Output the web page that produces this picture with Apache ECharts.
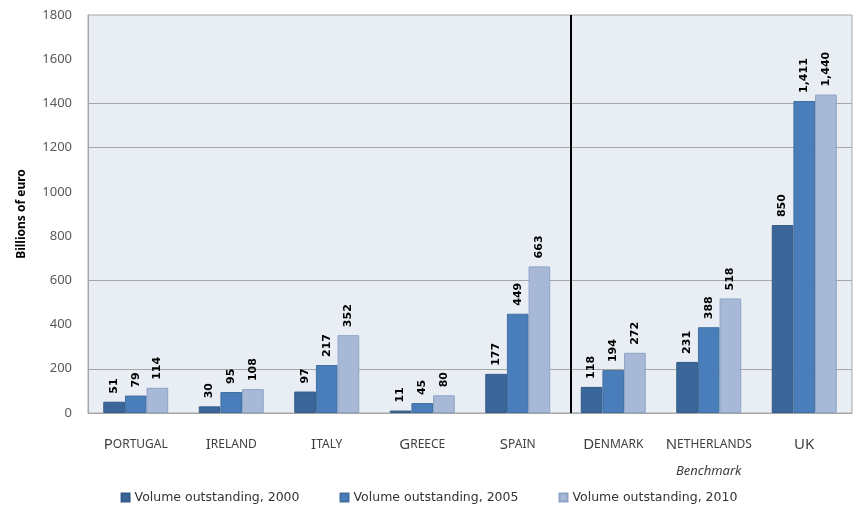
<!DOCTYPE html>
<html>
<head>
<meta charset="utf-8">
<script src="https://cdn.jsdelivr.net/npm/echarts@6/dist/echarts.min.js"></script>
<style>html,body{margin:0;padding:0;background:#fff;}#c{width:858px;height:513px;}</style>
</head>
<body>
<div id="c"></div>
<script>
const categories = ['Portugal', 'Ireland', 'Italy', 'Greece', 'Spain', 'Denmark', 'Netherlands', 'UK'];
const seriesNames = ['Volume outstanding, 2000', 'Volume outstanding, 2005', 'Volume outstanding, 2010'];
const vol2000 = [51, 30, 97, 11, 177, 118, 231, 850];
const vol2005 = [79, 95, 217, 45, 449, 194, 388, 1411];
const vol2010 = [114, 108, 352, 80, 663, 272, 518, 1440];
const visibleGridLines = [200, 600, 1200, 1400];
const benchmarkCategory = 'Netherlands';
const benchmarkNote = 'Benchmark';
const separatorAfter = 'Spain';     // separator drawn after this category
const separatorFrac = 0.558;        // fraction of the way to the next category centre

const colors = ['#3b6699', '#4a7ebb', '#a8b9d8'];
const borders = ['#335a88', '#41709f', '#8ea3c6'];
const gridColor = '#a6a6a6';
const plotBg = '#e9edf4';

function smallCaps(name) {
  let s;
  if (name === name.toUpperCase()) s = '{b|' + name + '}';
  else s = '{b|' + name[0].toUpperCase() + '}{s|' + name.slice(1).toUpperCase() + '}';
  if (name === benchmarkCategory) s += '\n{i|' + benchmarkNote + '}';
  return s;
}

const chart = echarts.init(document.getElementById('c'));
const dataArr = [vol2000, vol2005, vol2010];
const series = dataArr.map((d, i) => ({
  name: seriesNames[i],
  type: 'bar',
  data: d,
  barGap: '0%',
  barCategoryGap: '32%',
  z: 3,
  itemStyle: { color: colors[i], borderColor: borders[i], borderWidth: 1 },
  label: {
    show: true,
    position: 'top',
    rotate: 90,
    align: 'left',
    verticalAlign: 'middle',
    distance: 8,
    color: '#000',
    fontFamily: 'DejaVu Sans',
    fontWeight: 'bold',
    fontSize: 11,
    formatter: p => p.value.toLocaleString('en-US')
  }
}));
series[0].markLine = {
  silent: true,
  symbol: 'none',
  z: 1,
  animation: false,
  label: { show: false },
  lineStyle: { color: gridColor, width: 1, type: 'solid' },
  data: visibleGridLines.map(v => ({ yAxis: v }))
};

chart.setOption({
  animation: false,
  textStyle: { fontFamily: 'Noto Sans' },
  grid: { left: 88, right: 6, top: 15, bottom: 100, show: false },
  legend: {
    data: seriesNames,
    bottom: 4,
    left: 'center',
    icon: 'rect',
    itemWidth: 8,
    itemHeight: 8,
    itemGap: 40,
    textStyle: { color: '#333', fontSize: 12.5, fontFamily: 'DejaVu Sans' }
  },
  xAxis: {
    type: 'category',
    data: categories,
    axisLine: { show: true, lineStyle: { color: gridColor } },
    axisTick: { show: false },
    splitLine: { show: false },
    axisLabel: {
      interval: 0,
      margin: 18,
      formatter: smallCaps,
      rich: {
        b: { fontSize: 15, color: '#404040', fontFamily: 'Noto Sans', lineHeight: 27 },
        s: { fontSize: 12, color: '#404040', fontFamily: 'Noto Sans', lineHeight: 27 },
        i: { fontSize: 13, color: '#404040', fontFamily: 'Noto Sans', fontStyle: 'italic', lineHeight: 27 }
      }
    }
  },
  yAxis: {
    type: 'value',
    min: 0,
    max: 1800,
    interval: 200,
    name: 'Billions of euro',
    nameLocation: 'middle',
    nameGap: 60,
    nameTextStyle: { fontSize: 12, fontWeight: 'bold', color: '#000', fontFamily: 'Noto Sans' },
    axisLine: { show: true, lineStyle: { color: gridColor } },
    axisTick: { show: false },
    axisLabel: { margin: 16, color: '#595959', fontSize: 13, fontFamily: 'Noto Sans', formatter: v => String(v) },
    splitLine: { show: false }
  },
  series: series
});

// plot background and separator line, positioned through the axis scales
const i0 = categories.indexOf(separatorAfter);
const xa = chart.convertToPixel({ xAxisIndex: 0 }, categories[i0]);
const xb = chart.convertToPixel({ xAxisIndex: 0 }, categories[i0 + 1]);
const yTop = chart.convertToPixel({ yAxisIndex: 0 }, 1800);
const yBot = chart.convertToPixel({ yAxisIndex: 0 }, 0);
const gridRect = chart.getModel().getComponent('grid', 0).coordinateSystem.getRect();
const xs = Math.round(xa + (xb - xa) * separatorFrac);
chart.setOption({
  graphic: [{
    type: 'rect',
    silent: true,
    z: -10,
    shape: { x: gridRect.x, y: yTop, width: gridRect.width, height: yBot - yTop },
    style: { fill: plotBg, stroke: gridColor, lineWidth: 1 }
  }, {
    type: 'line',
    silent: true,
    z: 10,
    shape: { x1: xs, y1: yTop, x2: xs, y2: yBot },
    style: { stroke: '#000', lineWidth: 2 }
  }]
});
</script>
</body>
</html>
